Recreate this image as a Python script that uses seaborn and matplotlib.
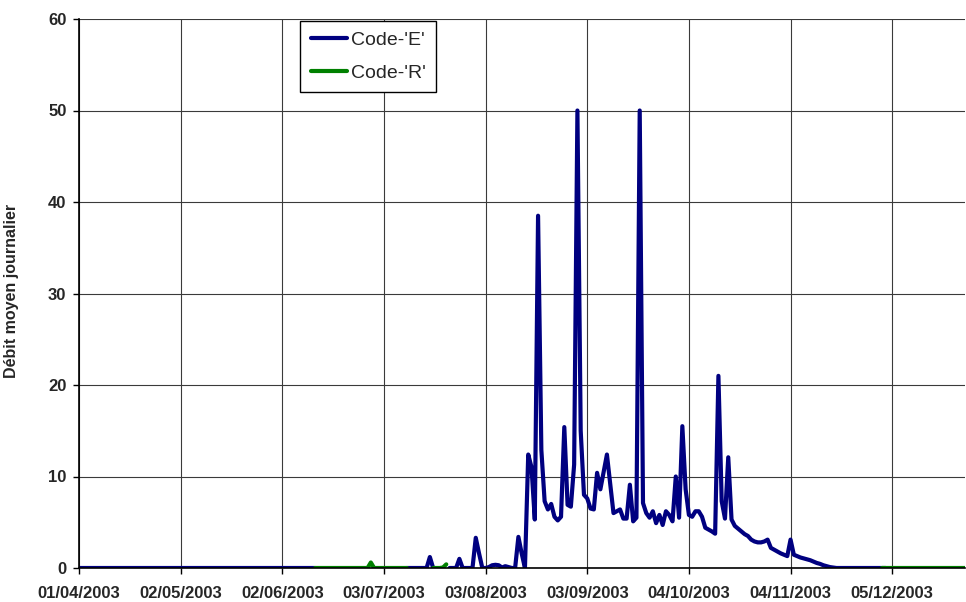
import numpy as np
import pandas as pd
import matplotlib
matplotlib.use("Agg")
import matplotlib.pyplot as plt
import matplotlib.dates as mdates
import seaborn as sns

# ---------------- data (daily mean discharge) ----------------
start_e1 = "2003-04-01"
vals_e1 = [0.0] * 73                      # 01/04 -> 12/06, code E

start_r1 = "2003-06-12"
vals_r1 = [0.0] * 17 + [0.6] + [0.0] * 11  # 12/06 -> 10/07, code R

start_e2 = "2003-07-10"
vals_e2 = [0.0, 0.0, 0.0, 0.0, 0.0, 0.0, 0.0, 1.2, 0.0]  # 10/07 -> 18/07

start_r2 = "2003-07-18"
vals_r2 = [0.0, 0.0, 0.0, 0.05, 0.4]      # 18/07 -> 22/07

start_e3 = "2003-07-23"
vals_e3 = [
    0.0, 0.0, 0.0, 1.0, 0.0, 0.0, 0.0, 0.0, 3.3, 1.6,
    0.0, 0.0, 0.1, 0.3, 0.35, 0.3, 0.05, 0.2, 0.1, 0.0,
    0.0, 3.4, 1.6, 0.0, 12.4, 11.0, 5.3, 38.5, 12.9, 7.3,
    6.4, 7.0, 5.6, 5.2, 5.6, 15.4, 6.9, 6.7, 11.3, 50.0,
    15.0, 8.0, 7.6, 6.5, 6.4, 10.4, 8.6, 10.5, 12.4, 9.2,
    6.0, 6.2, 6.4, 5.4, 5.4, 9.1, 5.1, 5.5, 50.0, 7.1,
    6.0, 5.5, 6.2, 4.9, 5.8, 4.7, 6.2, 5.8, 5.1, 10.0,
    5.5, 15.5, 8.6, 5.8, 5.6, 6.2, 6.2, 5.6, 4.4, 4.2,
    4.0, 3.75, 21.0, 7.3, 5.4, 12.1, 5.3, 4.6, 4.3, 4.0,
    3.7, 3.5, 3.1, 2.9, 2.8, 2.8, 2.9, 3.1, 2.2, 2.0,
    1.8, 1.6, 1.45, 1.3, 3.1, 1.45, 1.3, 1.15, 1.05, 0.95,
    0.85, 0.7, 0.55, 0.45, 0.3, 0.2, 0.1, 0.05,
    0.0, 0.0, 0.0, 0.0, 0.0, 0.0, 0.0, 0.0, 0.0, 0.0,
    0.0, 0.0, 0.0, 0.0, 0.0, 0.0,
]

start_r3 = "2003-12-02"
vals_r3 = [0.0] * 27                      # 02/12 -> end

segments = [
    ("Code-'E'", start_e1, vals_e1),
    ("Code-'R'", start_r1, vals_r1),
    ("Code-'E'", start_e2, vals_e2),
    ("Code-'R'", start_r2, vals_r2),
    ("Code-'E'", start_e3, vals_e3),
    ("Code-'R'", start_r3, vals_r3),
]

tick_dates = ["2003-04-01", "2003-05-02", "2003-06-02", "2003-07-03", "2003-08-03",
              "2003-09-03", "2003-10-04", "2003-11-04", "2003-12-05"]
y_ticks = [0, 10, 20, 30, 40, 50, 60]
y_label = "Débit moyen journalier"

# ---------------- build table ----------------
frames = []
for i, (code, s, v) in enumerate(segments):
    frames.append(pd.DataFrame({
        "date": pd.date_range(s, periods=len(v), freq="D"),
        "value": v,
        "code": code,
        "seg": i,
    }))
df = pd.concat(frames, ignore_index=True)

# ---------------- plot ----------------
sns.set_style("white")
plt.rcParams["font.family"] = ["Liberation Sans", "DejaVu Sans"]

fig = plt.figure(figsize=(9.66, 6.02), dpi=100)
ax = fig.add_axes([79 / 966, 1 - 568 / 602, (965 - 79) / 966, (568 - 19) / 602])

palette = {"Code-'E'": "#000080", "Code-'R'": "#008000"}
sns.lineplot(data=df, x="date", y="value", hue="code", units="seg",
             estimator=None, sort=False, palette=palette, linewidth=3,
             ax=ax, legend=True, zorder=3)

x0 = pd.Timestamp("2003-04-01")
ax.set_xlim(x0, x0 + pd.Timedelta(days=270.2))
ax.set_ylim(0, 60)

ax.set_xticks(pd.to_datetime(tick_dates))
ax.xaxis.set_major_formatter(mdates.DateFormatter("%d/%m/%Y"))
ax.set_yticks(y_ticks)

ax.grid(True, color="#3a3a3a", linewidth=0.8)
ax.set_axisbelow(True)
for s in ["top", "right"]:
    ax.spines[s].set_visible(False)
for s in ["left", "bottom"]:
    ax.spines[s].set_color("black")
    ax.spines[s].set_linewidth(1.2)
    ax.spines[s].set_zorder(4)

ax.tick_params(axis="x", length=4, width=1, direction="out", pad=9,
               labelsize=12, bottom=True, color="black")
ax.tick_params(axis="y", length=4, width=1, direction="out", pad=5,
               labelsize=12, left=True, color="black")
for lab in ax.get_xticklabels() + ax.get_yticklabels():
    lab.set_fontweight("bold")

ax.set_xlabel("")
ax.set_ylabel(y_label, fontsize=11.5, fontweight="bold")
ax.yaxis.set_label_coords(-0.068, 0.505)

handles, labels = ax.get_legend_handles_labels()
leg = ax.legend(handles, labels, loc="upper left",
                bbox_to_anchor=(300 / 966, 1 - 21 / 602),
                bbox_transform=fig.transFigure, borderaxespad=0,
                fontsize=14, frameon=True, fancybox=False, shadow=False,
                framealpha=1, edgecolor="black", handlelength=1.85,
                handletextpad=0.2, labelspacing=0.75, borderpad=0.55)
leg.get_frame().set_linewidth(1.0)
for h in leg.get_lines():
    h.set_linewidth(3)

fig.savefig("out.png", dpi=100)
